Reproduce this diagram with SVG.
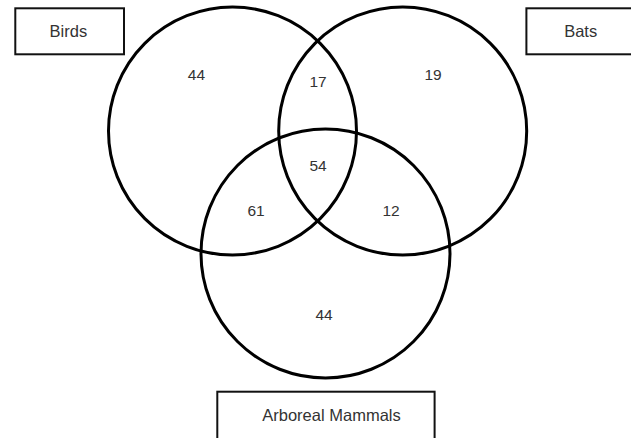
<svg xmlns="http://www.w3.org/2000/svg" width="631" height="438" viewBox="0 0 631 438">
  <style>
    .box { fill: #ffffff; stroke: #111111; stroke-width: 2; }
    .set { fill: none; stroke: #000000; stroke-width: 3; }
    .lbl { font-family: "Liberation Sans", Arial, sans-serif; font-size: 16.5px; fill: #333333; text-anchor: middle; }
    .num { font-family: "Liberation Sans", Arial, sans-serif; font-size: 15.5px; fill: #333333; text-anchor: middle; }
  </style>
  <rect x="0" y="0" width="631" height="438" fill="#ffffff"/>
  <g id="sets">
    <circle id="set-birds" class="set" cx="232.5" cy="131" r="124"/>
    <circle id="set-bats" class="set" cx="402.7" cy="131" r="124"/>
    <circle id="set-arboreal" class="set" cx="325.5" cy="253.5" r="124.5"/>
  </g>
  <g id="node-birds">
    <rect class="box" x="15.3" y="8.3" width="108.7" height="46"/>
    <text class="lbl" x="68.4" y="36.7">Birds</text>
  </g>
  <g id="node-bats">
    <rect class="box" x="526.4" y="8.3" width="120" height="46"/>
    <text class="lbl" x="580.7" y="36.7">Bats</text>
  </g>
  <g id="node-arboreal">
    <rect class="box" x="217.3" y="391.7" width="217.3" height="50"/>
    <text class="lbl" x="331.5" y="421">Arboreal Mammals</text>
  </g>
  <g id="counts">
    <text class="num" x="196.4" y="79.6">44</text>
    <text class="num" x="318" y="87.3">17</text>
    <text class="num" x="433" y="79.6">19</text>
    <text class="num" x="318" y="171.3">54</text>
    <text class="num" x="256" y="215.6">61</text>
    <text class="num" x="391" y="215.6">12</text>
    <text class="num" x="324" y="319.6">44</text>
  </g>
  <g id="connectors"></g>
</svg>
